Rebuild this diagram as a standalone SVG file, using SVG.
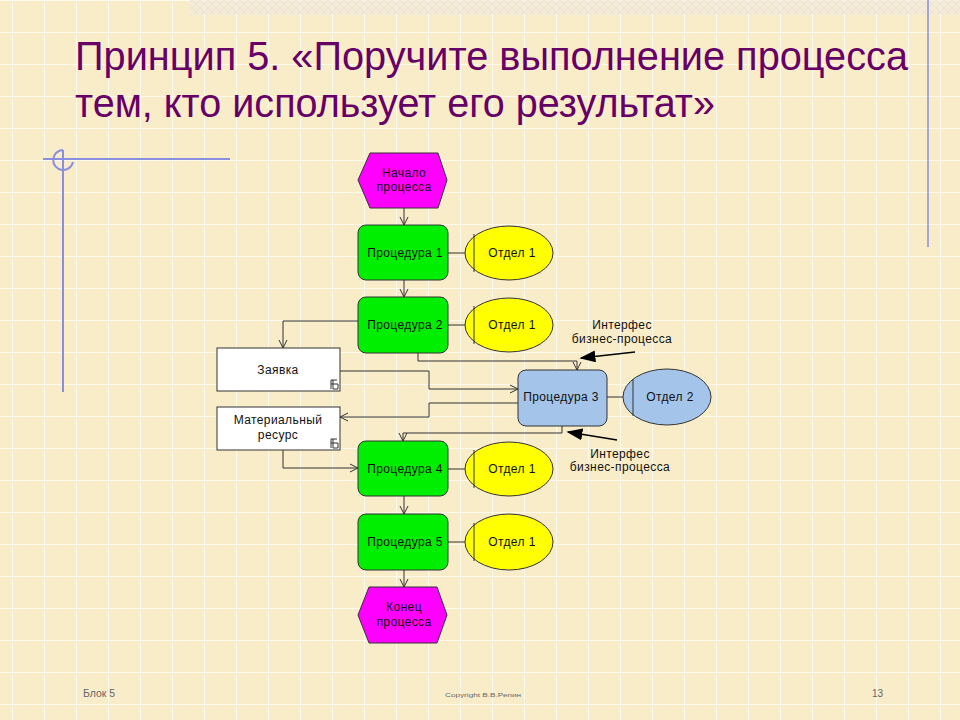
<svg xmlns="http://www.w3.org/2000/svg" width="960" height="720" viewBox="0 0 960 720">
<defs>
  <pattern id="grid" x="12" y="0" width="32" height="32" patternUnits="userSpaceOnUse">
    <rect width="32" height="32" fill="#F9ECC9"/>
    <path d="M0,0 V32 M0,0 H32" stroke="#FFFAEC" stroke-width="2" fill="none"/>
  </pattern>
  <pattern id="hatch" width="8" height="8" patternUnits="userSpaceOnUse">
    <rect width="8" height="8" fill="#F3EBDD"/>
    <path d="M0,0 L8,8 M8,0 L0,8" stroke="#E2DCD6" stroke-width="1"/>
  </pattern>
  <marker id="open" viewBox="0 0 10 10" refX="9" refY="5" markerWidth="10" markerHeight="10" markerUnits="userSpaceOnUse" orient="auto">
    <path d="M1,1 L9,5 L1,9" fill="none" stroke="#333" stroke-width="1"/>
  </marker>
  <marker id="solid" viewBox="0 0 10 10" refX="9" refY="5" markerWidth="16" markerHeight="12" markerUnits="userSpaceOnUse" orient="auto" preserveAspectRatio="none">
    <path d="M0,0 L10,5 L0,10 Z" fill="#000"/>
  </marker>
  <style>
    .title{font-family:"Liberation Sans","DejaVu Sans",sans-serif;font-size:41px;fill:#660066}
    .lbl{font-family:"Liberation Sans","DejaVu Sans",sans-serif;font-size:12px;letter-spacing:0.4px;fill:#111;text-anchor:middle}
    .foot{font-family:"Liberation Sans","DejaVu Sans",sans-serif;fill:#666}
    .proc{fill:#00EE00;stroke:#333;stroke-width:1}
    .proc3{fill:#A4C4EA;stroke:#333;stroke-width:1}
    .evt{fill:#FF00FF;stroke:#333;stroke-width:1}
    .org{fill:#FFFF00;stroke:#333;stroke-width:1}
    .org2{fill:#A4C4EA;stroke:#333;stroke-width:1}
    .box{fill:#FFFFFF;stroke:#333;stroke-width:1}
    .ln{fill:none;stroke:#333;stroke-width:1}
    .deco{fill:none;stroke:#8A8EE0;stroke-width:2}
  </style>
</defs>

<rect width="960" height="720" fill="url(#grid)"/>
<rect x="190" y="0" width="770" height="15" fill="url(#hatch)" opacity="0.7"/>

<!-- decorations -->
<g id="decor">
  <line class="deco" x1="43" y1="159" x2="230" y2="159"/>
  <line class="deco" x1="63" y1="150" x2="63" y2="392"/>
  <path class="deco" d="M63,150 A10,10 0 1 0 73,162" />
  <line x1="928" y1="0" x2="928" y2="247" stroke="#8A8EE0" stroke-width="1.5"/>
</g>

<!-- title -->
<text class="title" x="75" y="70" textLength="833" lengthAdjust="spacingAndGlyphs">Принцип 5. «Поручите выполнение процесса</text>
<text class="title" x="75" y="117" textLength="640" lengthAdjust="spacingAndGlyphs">тем, кто использует его результат»</text>

<!-- connectors -->
<g id="connectors">
  <line class="ln" x1="404" y1="208" x2="404" y2="225" marker-end="url(#open)"/>
  <line class="ln" x1="404" y1="280" x2="404" y2="297" marker-end="url(#open)"/>
  <line class="ln" x1="448" y1="253" x2="465" y2="253"/>
  <line class="ln" x1="448" y1="325" x2="465" y2="325"/>
  <polyline class="ln" points="358,321 283,321 283,348" marker-end="url(#open)"/>
  <polyline class="ln" points="418,353 418,361 577,361 577,370" marker-end="url(#open)"/>
  <polyline class="ln" points="340,371 429,371 429,389 518,389" marker-end="url(#open)"/>
  <polyline class="ln" points="518,403 429,403 429,417 340,417" marker-end="url(#open)"/>
  <polyline class="ln" points="562,426 562,433 403,433 403,441" marker-end="url(#open)"/>
  <line class="ln" x1="607" y1="397" x2="623" y2="397"/>
  <polyline class="ln" points="283,450 283,468 358,468" marker-end="url(#open)"/>
  <line class="ln" x1="448" y1="469" x2="465" y2="469"/>
  <line class="ln" x1="404" y1="496" x2="404" y2="514" marker-end="url(#open)"/>
  <line class="ln" x1="448" y1="542" x2="465" y2="542"/>
  <line class="ln" x1="404" y1="570" x2="404" y2="587" marker-end="url(#open)"/>
  <line x1="635" y1="352" x2="581" y2="358" stroke="#000" stroke-width="1.5" marker-end="url(#solid)"/>
  <line x1="617" y1="440" x2="568" y2="432" stroke="#000" stroke-width="1.5" marker-end="url(#solid)"/>
</g>

<!-- nodes -->
<g id="start">
  <polygon class="evt" points="370,153 438,153 447,180 438,208 370,208 358,180"/>
  <text class="lbl" x="404" y="177">Начало</text>
  <text class="lbl" x="404" y="191">процесса</text>
</g>

<g id="proc1">
  <rect class="proc" x="358" y="225" width="90" height="55" rx="8"/>
  <text class="lbl" x="405" y="257">Процедура 1</text>
</g>
<g id="org1">
  <ellipse class="org" cx="509" cy="253" rx="44" ry="27"/>
  <line class="ln" x1="474" y1="234" x2="474" y2="272"/>
  <text class="lbl" x="512" y="257">Отдел 1</text>
</g>

<g id="proc2">
  <rect class="proc" x="358" y="297" width="90" height="56" rx="8"/>
  <text class="lbl" x="405" y="329">Процедура 2</text>
</g>
<g id="org2">
  <ellipse class="org" cx="509" cy="325" rx="44" ry="27"/>
  <line class="ln" x1="474" y1="306" x2="474" y2="344"/>
  <text class="lbl" x="512" y="329">Отдел 1</text>
</g>

<g id="zayavka">
  <rect class="box" x="217" y="348" width="123" height="43"/>
  <text class="lbl" x="278" y="374">Заявка</text>
  <path class="ln" d="M331,380 V389 M331,380 H337 M331,384 H335 M333,380 V389 H338 V384 H335" stroke-width="0.8"/>
</g>

<g id="resurs">
  <rect class="box" x="217" y="407" width="123" height="43"/>
  <text class="lbl" x="278" y="424">Материальный</text>
  <text class="lbl" x="278" y="439">ресурс</text>
  <path class="ln" d="M331,439 V448 M331,439 H337 M331,443 H335 M333,439 V448 H338 V443 H335" stroke-width="0.8"/>
</g>

<g id="proc3">
  <rect class="proc3" x="518" y="370" width="89" height="56" rx="8"/>
  <text class="lbl" x="561" y="401">Процедура 3</text>
</g>
<g id="org3">
  <ellipse class="org2" cx="667" cy="397" rx="44" ry="28"/>
  <line class="ln" x1="633" y1="379" x2="633" y2="416"/>
  <text class="lbl" x="670" y="401">Отдел 2</text>
</g>

<g id="iface1">
  <text class="lbl" x="622" y="329">Интерфес</text>
  <text class="lbl" x="622" y="343">бизнес-процесса</text>
</g>
<g id="iface2">
  <text class="lbl" x="620" y="458">Интерфес</text>
  <text class="lbl" x="620" y="471">бизнес-процесса</text>
</g>

<g id="proc4">
  <rect class="proc" x="358" y="441" width="90" height="55" rx="8"/>
  <text class="lbl" x="405" y="473">Процедура 4</text>
</g>
<g id="org4">
  <ellipse class="org" cx="509" cy="469" rx="44" ry="27"/>
  <line class="ln" x1="474" y1="450" x2="474" y2="488"/>
  <text class="lbl" x="512" y="473">Отдел 1</text>
</g>

<g id="proc5">
  <rect class="proc" x="358" y="514" width="90" height="56" rx="8"/>
  <text class="lbl" x="405" y="546">Процедура 5</text>
</g>
<g id="org5">
  <ellipse class="org" cx="509" cy="542" rx="44" ry="28"/>
  <line class="ln" x1="474" y1="523" x2="474" y2="561"/>
  <text class="lbl" x="512" y="546">Отдел 1</text>
</g>

<g id="end">
  <polygon class="evt" points="369,587 437,587 447,615 437,643 369,643 358,615"/>
  <text class="lbl" x="404" y="611">Конец</text>
  <text class="lbl" x="404" y="626">процесса</text>
</g>

<!-- footer -->
<text class="foot" x="83" y="697" font-size="10" textLength="32" lengthAdjust="spacingAndGlyphs">Блок 5</text>
<text class="foot" x="445" y="697" font-size="6" textLength="76" lengthAdjust="spacingAndGlyphs">Copyright В.В.Репин</text>
<text class="foot" x="872" y="697" font-size="10">13</text>
</svg>
